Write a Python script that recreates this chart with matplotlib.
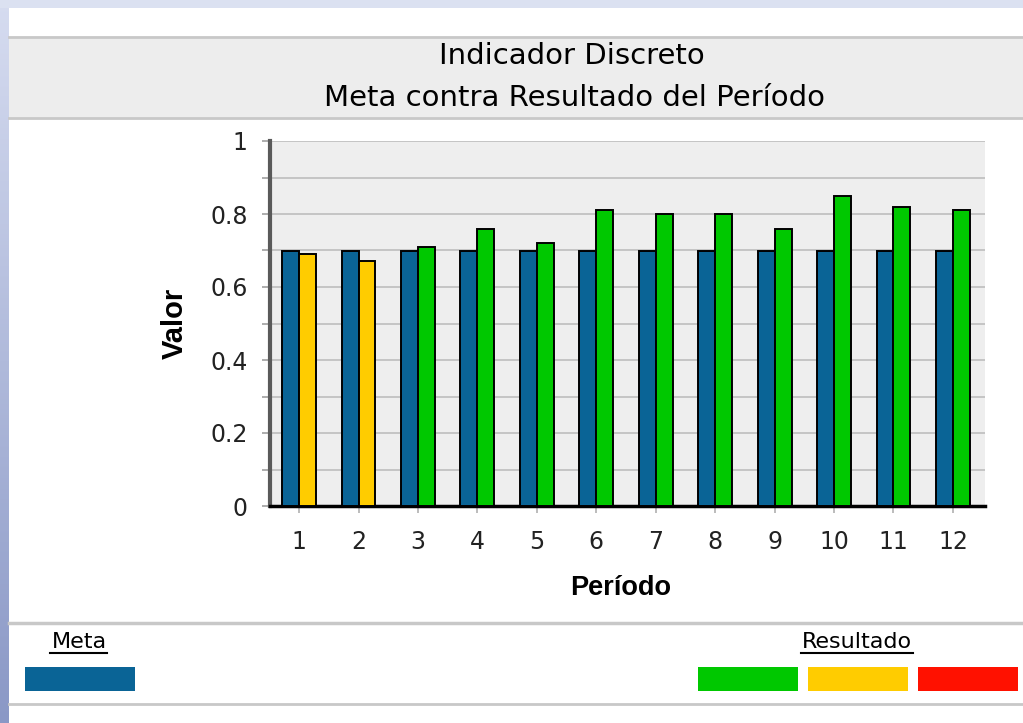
import numpy as np
import matplotlib
matplotlib.use("Agg")
import matplotlib.pyplot as plt
from matplotlib.patches import Rectangle
from matplotlib.ticker import MultipleLocator

# -----------------------------
# Data
# -----------------------------
periodos = [1, 2, 3, 4, 5, 6, 7, 8, 9, 10, 11, 12]
meta = [0.70, 0.70, 0.70, 0.70, 0.70, 0.70, 0.70, 0.70, 0.70, 0.70, 0.70, 0.70]
resultado = [0.69, 0.67, 0.71, 0.76, 0.72, 0.81, 0.80, 0.80, 0.76, 0.85, 0.82, 0.81]
estado = ["amarillo", "amarillo", "verde", "verde", "verde", "verde",
          "verde", "verde", "verde", "verde", "verde", "verde"]

titulo_1 = "Indicador Discreto"
titulo_2 = "Meta contra Resultado del Período"
leyenda_resultado = ["verde", "amarillo", "rojo"]

# -----------------------------
# Styling
# -----------------------------
c_meta = "#0a6496"
c_estado = {"verde": "#00c800", "amarillo": "#ffcc00", "rojo": "#ff1100"}
c_line = "#c8c8c8"

W, H = 1023, 723
fig = plt.figure(figsize=(W / 100, H / 100), dpi=100)
fig.patch.set_facecolor("white")

# background layer in pixel coordinates
bg = fig.add_axes([0, 0, 1, 1], zorder=0)
bg.axis("off")

# outer bluish frame: top strip and left gradient strip
grad = np.linspace(0, 1, 256).reshape(-1, 1)
cmap = matplotlib.colors.LinearSegmentedColormap.from_list("edge", ["#d6dcf0", "#8a98c6"])
bg.imshow(grad, cmap=cmap, extent=(0, 9, H, 0), aspect="auto")
bg.add_patch(Rectangle((0, 0), W, 8, color="#dbe1f1", lw=0))
bg.set_xlim(0, W)
bg.set_ylim(H, 0)

# header band
bg.add_patch(Rectangle((9, 37), W - 9, 81, facecolor="#ededed", lw=0))
bg.plot([9, W], [37, 37], color=c_line, lw=2)
bg.plot([9, W], [118, 118], color=c_line, lw=2)
bg.text(572, 56, titulo_1, ha="center", va="center", fontsize=21,
        family="DejaVu Sans", color="black")
bg.text(574, 98, titulo_2, ha="center", va="center", fontsize=21,
        family="DejaVu Sans", color="black")

# footer lines
bg.plot([9, W], [623, 623], color=c_line, lw=2.5)
bg.plot([9, W], [704, 704], color=c_line, lw=2)

# legend: Meta
bg.text(79, 642, "Meta", ha="center", va="center", fontsize=16, family="DejaVu Sans")
bg.plot([50, 107], [653, 653], color="black", lw=1.5)
bg.add_patch(Rectangle((25, 667), 110, 24, facecolor=c_meta, lw=0))

# legend: Resultado
bg.text(857, 642, "Resultado", ha="center", va="center", fontsize=16, family="DejaVu Sans")
bg.plot([801, 913], [653, 653], color="black", lw=1.5)
for i, est in enumerate(leyenda_resultado):
    bg.add_patch(Rectangle((698 + i * 110, 667), 100, 24, facecolor=c_estado[est], lw=0))

# -----------------------------
# Chart
# -----------------------------
left, right, top, bottom = 270, 985, 141, 506
ax = fig.add_axes([left / W, 1 - bottom / H, (right - left) / W, (bottom - top) / H], zorder=1)
ax.set_facecolor("#eeeeee")

x = np.array(periodos)
w = 0.285
ax.bar(x - w / 2, meta, width=w, color=c_meta, edgecolor="black", linewidth=1.4, zorder=3)
ax.bar(x + w / 2, resultado, width=w, color=[c_estado[e] for e in estado],
       edgecolor="black", linewidth=1.4, zorder=3)

ax.set_xlim(0.51, 12.54)
ax.set_ylim(0, 1.0)
ax.set_xticks(periodos)
ax.set_xticklabels([str(p) for p in periodos])
ax.set_yticks(np.arange(0, 1.01, 0.2))
ax.set_yticklabels(["0", "0.2", "0.4", "0.6", "0.8", "1"])
ax.yaxis.set_minor_locator(MultipleLocator(0.1))

ax.grid(True, which="both", axis="y", color="#c4c4c4", lw=1.4, zorder=1)
ax.set_axisbelow(True)

ax.tick_params(axis="y", which="both", direction="out", length=6, width=1.2,
               color="#a0a0a0", labelsize=17, pad=10, labelcolor="#222222")
ax.tick_params(axis="x", which="major", direction="out", length=5, width=1.2,
               color="#b0b0b0", labelsize=17, pad=12, labelcolor="#222222")

for s in ["top", "right"]:
    ax.spines[s].set_visible(False)
ax.spines["left"].set_color("#5a5a5a")
ax.spines["left"].set_linewidth(3)
ax.spines["bottom"].set_color("black")
ax.spines["bottom"].set_linewidth(2.5)

ax.set_ylabel("Valor", fontsize=21, fontweight="bold", family="Liberation Sans")
ax.yaxis.set_label_coords(-0.113, 0.5)
ax.set_xlabel("Período", fontsize=19.5, fontweight="bold", family="Liberation Sans")
ax.xaxis.set_label_coords(0.49, -0.19)

fig.savefig("out.png", dpi=100, facecolor=fig.get_facecolor())
plt.close(fig)
